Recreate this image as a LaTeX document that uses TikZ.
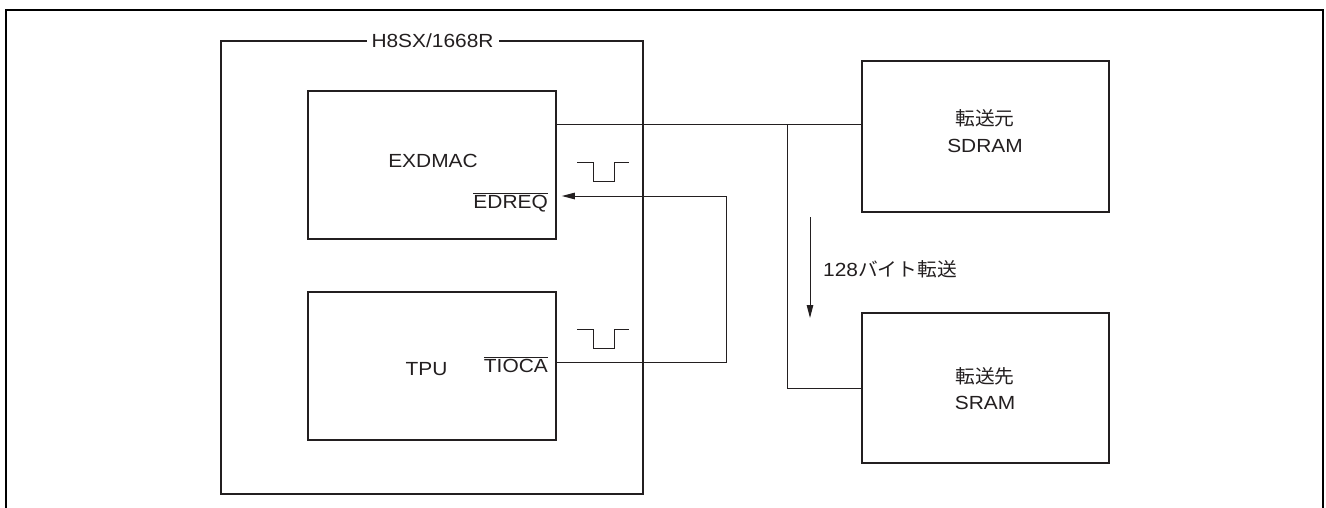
\documentclass[tikz,border=0pt]{standalone}
\usepackage{fontspec}
\setmainfont{Liberation Sans}[FakeStretch=1.1]
\newfontfamily\jp{Noto Sans CJK JP}[FakeStretch=1.04]
\usetikzlibrary{arrows.meta}
\definecolor{ink}{RGB}{35,31,32}
\begin{document}
\begin{tikzpicture}[x=1pt,y=-1pt,
  box/.style={draw=ink, line width=1.6pt, rectangle, inner sep=0pt},
  wire/.style={draw=ink, line width=1pt},
  frame/.style={draw=black, line width=1.8pt},
  lbl/.style={font=\fontsize{19}{26}\selectfont, inner sep=0pt, text=ink},
  tip/.style={-{Triangle[length=13pt,width=6.5pt]}}]
\useasboundingbox (0,0) rectangle (1326,507);
\fill[white] (0,0) rectangle (1326,507);
% outer frame (open at bottom)
\draw[frame] (6,530) -- (6,10) -- (1323,10) -- (1323,530);
% boxes
\node[box, minimum width=422pt, minimum height=453pt] (chip) at (432,267.5) {};
\node[lbl, fill=white, inner xsep=5pt, inner ysep=2pt] (title) at (432.5,41) {H8SX/1668R};
\node[box, minimum width=248pt, minimum height=148pt] (exdmac) at (432,165) {};
\node[box, minimum width=248pt, minimum height=148pt] (tpu) at (432,366) {};
\node[box, minimum width=247pt, minimum height=151pt] (sdram) at (985.5,136.5) {};
\node[box, minimum width=247pt, minimum height=150pt] (sram) at (985.5,388) {};
% labels
\node[lbl, anchor=base] (exdmaclbl) at (433,167) {EXDMAC};
\node[lbl, anchor=base east] (edreq) at (548,208) {$\overline{\mbox{EDREQ}}$};
\node[lbl, anchor=base] (tpulbl) at (426.5,375) {TPU};
\node[lbl, anchor=base east] (tioca) at (548,372) {$\overline{\mbox{TIOCA}}$};
\node[lbl, anchor=base] (srcjp) at (985,125.5) {\jp 転送元};
\node[lbl, anchor=base] (srcen) at (985,152) {SDRAM};
\node[lbl, anchor=base] (dstjp) at (985,383.5) {\jp 転送先};
\node[lbl, anchor=base] (dsten) at (985,409) {SRAM};
\node[lbl, anchor=base west] (xfer) at (823,276) {128{\jp バイト転送}};
% bus
\coordinate (j1) at (787,124);
\draw[wire] (exdmac.east |- j1) -- (sdram.west |- j1);
\draw[wire] (j1) |- (sram.west);
% transfer arrow
\coordinate (a1) at (810,217);
\coordinate (a2) at (810,318);
\draw[wire, tip] (a1) -- (a2);
% TIOCA -> EDREQ
\coordinate (t1) at (726,362);
\coordinate (t2) at (726,196);
\draw[wire, tip, shorten >=5pt] (tpu.east |- t1) -- (t1) -- (t2) -- (exdmac.east |- t2);
% pulses
\draw[wire] (577,162) -- (593,162) -- (593,181) -- (614,181) -- (614,162) -- (629,162);
\draw[wire] (577,329) -- (593,329) -- (593,348) -- (614,348) -- (614,329) -- (629,329);
\end{tikzpicture}
\end{document}
